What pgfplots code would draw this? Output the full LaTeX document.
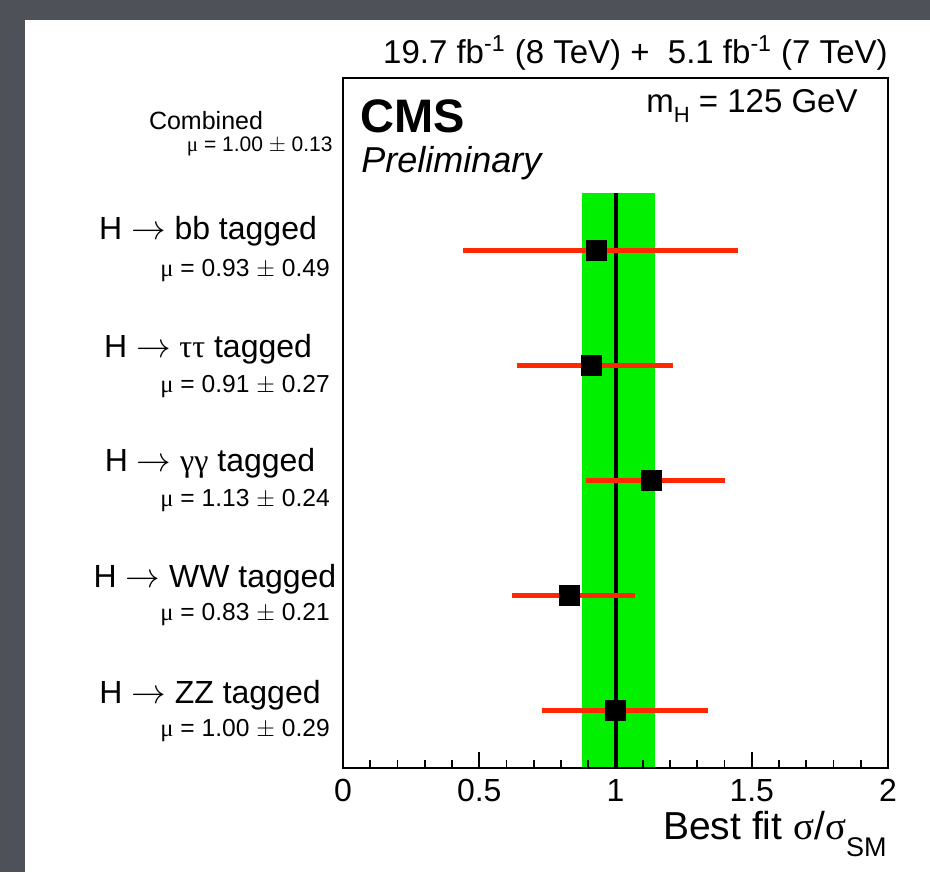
\documentclass[border=0pt]{standalone}
\usepackage{pgfplots}
\pgfplotsset{compat=1.18}
\usepackage{pgfplotstable}
\usepackage{fontspec}
\setmainfont{Liberation Sans}
\newfontfamily\symb{Liberation Serif}
\definecolor{bgdark}{RGB}{78,82,88}
\definecolor{rootgreen}{RGB}{0,240,0}
\definecolor{rootred}{RGB}{255,40,0}
\newcommand{\fs}[1]{\fontsize{#1}{#1}\selectfont}
\newcommand{\px}[2]{({#1*0.5pt},{(872-#2)*0.5pt})}
\pgfplotstableread{
x y em ep
0.93 4.5 0.49 0.52
0.91 3.5 0.27 0.30
1.13 2.5 0.24 0.27
0.83 1.5 0.21 0.24
1.00 0.5 0.27 0.34
}\fitdata
\begin{document}
\begin{tikzpicture}
\fill[bgdark] (0,0) rectangle (465pt,436pt);
\fill[white] (12.5pt,0) rectangle (465pt,426pt);
\begin{axis}[
  at={(171.5pt,52pt)}, anchor=south west,
  scale only axis, width=272.5pt, height=345pt,
  xmin=0, xmax=2, ymin=0, ymax=6,
  ytick=\empty,
  xtick={0,0.5,1,1.5,2},
  xticklabels={0,0.5,1,1.5,2},
  minor x tick num=4,
  xtick pos=bottom,
  tick align=inside,
  major tick length=8pt,
  minor tick length=4pt,
  every tick/.style={black, line width=0.8pt},
  axis line style={line width=1pt},
  axis on top,
  clip=false,
  xticklabel style={font=\fs{16}, yshift=-2pt},
]
\addplot[fill=rootgreen, draw=none] coordinates {(0.877,0) (1.145,0) (1.145,5) (0.877,5)} -- cycle;
\addplot[black, line width=2pt] coordinates {(1,0) (1,5)};
\addplot[only marks, mark=square*, mark size=5pt, black,
  error bars/.cd, x dir=both, x explicit, error mark=none,
  error bar style={line width=2.5pt, color=rootred}]
  table[x=x, y=y, x error plus=ep, x error minus=em]{\fitdata};
\end{axis}
% header texts
\node[anchor=base east, inner sep=0, font=\fs{16.5}] at \px{888}{64}
  {19.7 fb\textsuperscript{-1} (8 TeV) + \ 5.1 fb\textsuperscript{-1} (7 TeV)};
\node[anchor=base east, inner sep=0, font=\fs{16.5}] at \px{858}{113}
  {m\raisebox{-0.3em}{\fs{11}H} = 125 GeV};
\node[anchor=base west, inner sep=0, font=\fs{23.5}\bfseries] at \px{360}{133} {CMS};
\node[anchor=base west, inner sep=0, font=\fs{18}\itshape] at \px{361}{173} {Preliminary};
% x label
\node[anchor=base east, inner sep=0, font=\fs{19.5}] at \px{887}{839}
  {Best fit {\symb σ}/{\symb σ}\raisebox{-0.45em}{\fs{13.5}SM}};
% category labels
\node[anchor=base, inner sep=0, font=\fs{12.5}] at \px{206}{130} {Combined};
\node[anchor=base east, inner sep=0, font=\fs{10.5}] at \px{333}{152} {{\symb μ} = 1.00 $\pm$ 0.13};
\node[anchor=base, inner sep=0, font=\fs{16}] at \px{208}{240} {H $\rightarrow$ bb tagged};
\node[anchor=base west, inner sep=0, font=\fs{12.3}] at \px{160}{277} {{\symb μ} = 0.93 $\pm$ 0.49};
\node[anchor=base, inner sep=0, font=\fs{16}] at \px{208}{358} {H $\rightarrow$ {\symb ττ} tagged};
\node[anchor=base west, inner sep=0, font=\fs{12.3}] at \px{160}{393} {{\symb μ} = 0.91 $\pm$ 0.27};
\node[anchor=base, inner sep=0, font=\fs{16}] at \px{210}{472} {H $\rightarrow$ {\symb γγ} tagged};
\node[anchor=base west, inner sep=0, font=\fs{12.3}] at \px{160}{507} {{\symb μ} = 1.13 $\pm$ 0.24};
\node[anchor=base, inner sep=0, font=\fs{16}] at \px{215}{588} {H $\rightarrow$ WW tagged};
\node[anchor=base west, inner sep=0, font=\fs{12.3}] at \px{160}{621} {{\symb μ} = 0.83 $\pm$ 0.21};
\node[anchor=base, inner sep=0, font=\fs{16}] at \px{210}{703} {H $\rightarrow$ ZZ tagged};
\node[anchor=base west, inner sep=0, font=\fs{12.3}] at \px{160}{737} {{\symb μ} = 1.00 $\pm$ 0.29};
\end{tikzpicture}
\end{document}
